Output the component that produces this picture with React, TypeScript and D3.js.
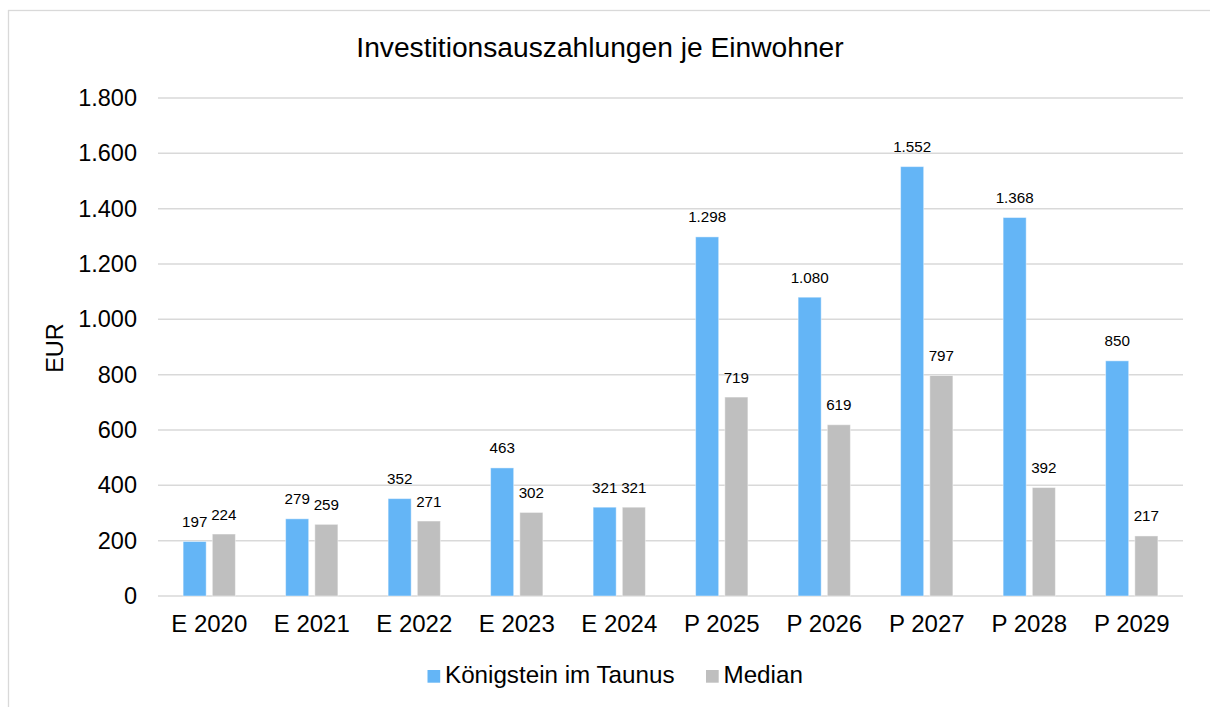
import { useMemo } from "react";
import * as d3 from "d3";

const categories = ["E 2020", "E 2021", "E 2022", "E 2023", "E 2024", "P 2025", "P 2026", "P 2027", "P 2028", "P 2029"];
const koenigstein = [197, 279, 352, 463, 321, 1298, 1080, 1552, 1368, 850];
const median = [224, 259, 271, 302, 321, 719, 619, 797, 392, 217];
const seriesNames = ["Königstein im Taunus", "Median"];
const seriesColors = ["#64b5f6", "#bfbfbf"];
const yTicks = [0, 200, 400, 600, 800, 1000, 1200, 1400, 1600, 1800];

const WIDTH = 1210;
const HEIGHT = 707;
const MARGIN = { top: 98, right: 27, bottom: 111, left: 158 };
const FONT = "'Liberation Sans', Arial, Helvetica, sans-serif";

const fmt = (v: number) => d3.format(",")(v).replace(/,/g, ".");

export default function App() {
  const boundsWidth = WIDTH - MARGIN.left - MARGIN.right;
  const boundsHeight = HEIGHT - MARGIN.top - MARGIN.bottom;

  const xScale = useMemo(
    () => d3.scaleBand().domain(categories).range([0, boundsWidth]).paddingInner(0.49).paddingOuter(0.245),
    [boundsWidth]
  );
  const xInner = useMemo(
    () => d3.scaleBand().domain(seriesNames).range([0, xScale.bandwidth()]).paddingInner(0.21),
    [xScale]
  );
  const yScale = useMemo(() => d3.scaleLinear().domain([0, 1800]).range([boundsHeight, 0]), [boundsHeight]);

  const series = [koenigstein, median];

  return (
    <div style={{ position: "absolute", left: 0, top: 0 }}>
      <svg width={WIDTH} height={HEIGHT} style={{ display: "block", fontFamily: FONT }}>
        <rect x={0} y={0} width={WIDTH} height={HEIGHT} fill="#ffffff" />
        <rect x={8.5} y={10.5} width={WIDTH} height={HEIGHT} fill="none" stroke="#d9d9d9" strokeWidth={1.3} />

        <text x={600} y={57} textAnchor="middle" fontSize={28.2} fill="#000">
          Investitionsauszahlungen je Einwohner
        </text>

        <text
          transform={`translate(54.5,348) rotate(-90)`}
          textAnchor="middle"
          dominantBaseline="central"
          fontSize={23.5}
          fill="#000"
        >
          EUR
        </text>

        <g transform={`translate(${MARGIN.left},${MARGIN.top})`}>
          {yTicks.map((t) => (
            <g key={t}>
              <line x1={0} x2={boundsWidth} y1={yScale(t)} y2={yScale(t)} stroke="#d9d9d9" strokeWidth={1.5} />
              <text
                x={-21}
                y={yScale(t)}
                textAnchor="end"
                dominantBaseline="central"
                fontSize={23.5}
                fill="#000"
              >
                {fmt(t)}
              </text>
            </g>
          ))}

          {categories.map((c, i) => (
            <g key={c} transform={`translate(${xScale(c)},0)`}>
              {series.map((vals, s) => {
                const x = xInner(seriesNames[s]) ?? 0;
                const y = yScale(vals[i]);
                return (
                  <g key={s}>
                    <rect
                      x={x}
                      y={y}
                      width={xInner.bandwidth()}
                      height={boundsHeight - y}
                      fill={seriesColors[s]}
                      stroke="#ffffff"
                      strokeOpacity={0.45}
                      strokeWidth={1}
                    />
                    <text
                      x={x + xInner.bandwidth() / 2}
                      y={y - 14.5}
                      textAnchor="middle"
                      fontSize={15.2}
                      fill="#000"
                    >
                      {fmt(vals[i])}
                    </text>
                  </g>
                );
              })}
              <text
                x={xScale.bandwidth() / 2}
                y={boundsHeight + 36}
                textAnchor="middle"
                fontSize={24}
                fill="#000"
              >
                {c}
              </text>
            </g>
          ))}
        </g>

        <g>
          <rect x={427.5} y={670} width={12.7} height={12.7} fill={seriesColors[0]} />
          <text x={445} y={683} fontSize={24.2} fill="#000">
            {seriesNames[0]}
          </text>
          <rect x={706} y={670} width={12.7} height={12.7} fill={seriesColors[1]} />
          <text x={723.5} y={683} fontSize={24.2} fill="#000">
            {seriesNames[1]}
          </text>
        </g>
      </svg>
    </div>
  );
}
